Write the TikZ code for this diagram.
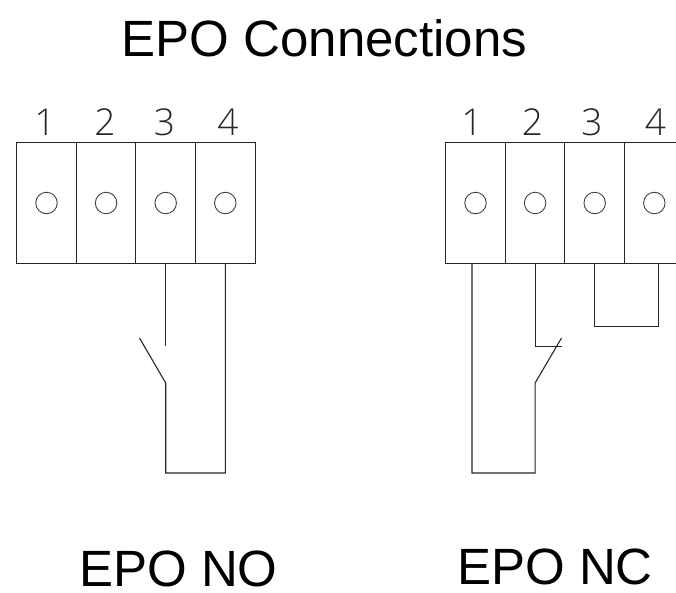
\documentclass[tikz,border=0pt]{standalone}
\usepackage{fontspec}
\setmainfont{Liberation Sans}
\newfontfamily\digitfont{Open Sans Light}
\tikzstyle{cell} = [rectangle, minimum width=59.6pt, minimum height=121pt, inner sep=0pt, draw=black!85, line width=1.1pt]
\tikzstyle{screw} = [circle, minimum size=21.5pt, inner sep=0pt, draw=black!75, line width=0.9pt]
\tikzstyle{digit} = [inner sep=0pt, anchor=base, font=\digitfont\fontsize{37}{37}\selectfont, text=black!85]
\tikzstyle{heading} = [inner sep=0pt, anchor=base, font=\fontsize{51}{51}\selectfont, text=black]
\tikzstyle{wire} = [draw=black!85, line width=1.1pt, line join=miter]

\begin{document}
\begin{tikzpicture}[x=1pt, y=-1pt]
		\useasboundingbox (0,0) rectangle (676,592);
		
		\node (title) [heading] at (324.5,56) {EPO Connections};
		\node (nolabel) [heading] at (178.5,586) {EPO NO};
		\node (nclabel) [heading] at (555,584) {EPO NC};
		
		% left block
		\node (noa) [cell] at (46.5,203) {};
		\node (nob) [cell] at (106.1,203) {};
		\node (noc) [cell] at (165.7,203) {};
		\node (nod) [cell] at (225.3,203) {};
		\node (noscrewa) [screw] at (noa) {};
		\node (noscrewb) [screw] at (nob) {};
		\node (noscrewc) [screw] at (noc) {};
		\node (noscrewd) [screw] at (nod) {};
		\node (nodigita) [digit] at (45,135.5) {1};
		\node (nodigitb) [digit] at (105,135.5) {2};
		\node (nodigitc) [digit] at (164.5,135.5) {3};
		\node (nodigitd) [digit] at (228,135.5) {4};
		
		% right block
		\node (nca) [cell] at (475.5,203) {};
		\node (ncb) [cell] at (535.1,203) {};
		\node (ncc) [cell] at (594.7,203) {};
		\node (ncd) [cell] at (654.3,203) {};
		\node (ncscrewa) [screw] at (nca) {};
		\node (ncscrewb) [screw] at (ncb) {};
		\node (ncscrewc) [screw] at (ncc) {};
		\node (ncscrewd) [screw] at (ncd) {};
		\node (ncdigita) [digit] at (472,135.5) {1};
		\node (ncdigitb) [digit] at (532.5,135.5) {2};
		\node (ncdigitc) [digit] at (592,135.5) {3};
		\node (ncdigitd) [digit] at (655.5,135.5) {4};
		
		% left switch
		\coordinate (nocontact) at (165.7,346);
		\coordinate (nohinge) at (165.7,383);
		\coordinate (noblade) at (139.5,338);
		\coordinate (noloop) at (165.7,473);
		\draw [wire] (noc.south) -- (nocontact);
		\draw [wire] (noblade) -- (nohinge) -- (noloop) -| (nod.south);
		
		% right switch
		\coordinate (nccontact) at (562,346.5);
		\coordinate (nchinge) at (535.1,383);
		\coordinate (ncblade) at (561.5,338);
		\coordinate (ncloop) at (472,473);
		\coordinate (ncwire) at (472,263.5);
		\draw [wire] (ncb.south) |- (nccontact);
		\draw [wire] (ncblade) -- (nchinge) -- (ncb.south |- ncloop) -- (ncloop) -- (ncwire);
		
		% jumper
		\coordinate (jumperend) at (658.5,263.5);
		\coordinate (jumperbottom) at (658.5,326.5);
		\draw [wire] (ncc.south) |- (jumperbottom) -- (jumperend);
		
	\end{tikzpicture}
\end{document}
